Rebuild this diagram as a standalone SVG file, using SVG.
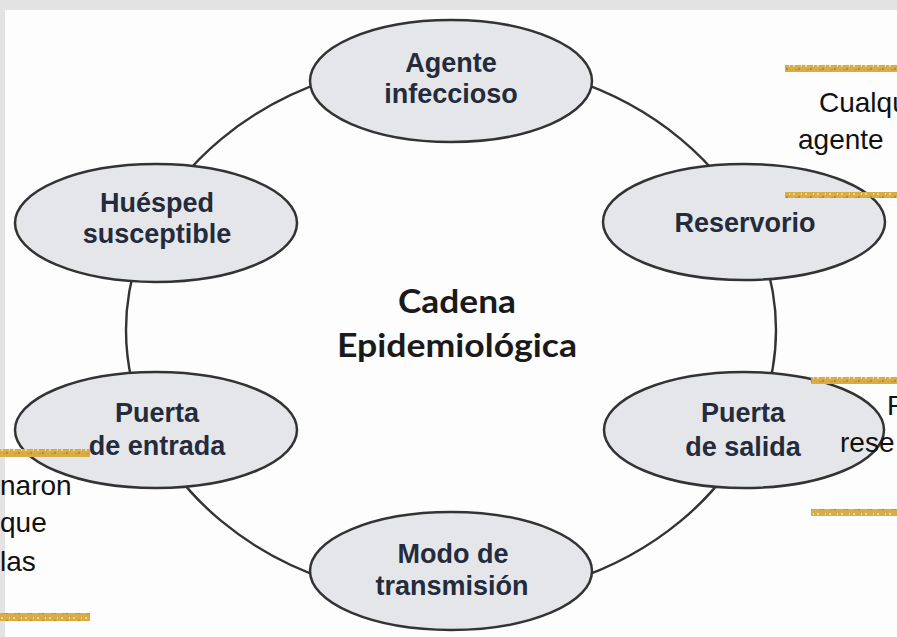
<svg xmlns="http://www.w3.org/2000/svg" width="897" height="637" viewBox="0 0 897 637">
<defs>
<pattern id="glitter" width="12" height="8" patternUnits="userSpaceOnUse">
<rect width="12" height="8" fill="#d8ac47"/>
<rect x="1" y="1" width="2" height="2" fill="#f3d77a"/>
<rect x="6" y="4" width="2" height="2" fill="#b88a2a"/>
<rect x="9" y="1" width="1" height="2" fill="#f6e08e"/>
<rect x="3" y="5" width="2" height="1" fill="#c29433"/>
</pattern>
<style>
.node ellipse{fill:#e5e6e9;stroke:#333;stroke-width:2.5}
.lbl{font-family:"Liberation Sans",Arial,sans-serif;font-weight:bold;font-size:27px;fill:#232b3c;text-anchor:middle}
.title{font-family:Lato,"Open Sans",sans-serif;font-weight:bold;font-size:32px;fill:#1a1a1a;text-anchor:middle}
.frag{font-family:"Liberation Sans",Arial,sans-serif;font-size:28px;fill:#111}
.bar{fill:url(#glitter)}
</style>
</defs>
<rect width="897" height="637" fill="#e3e3e3"/>
<rect x="5" y="10" width="892" height="627" fill="#fdfdfd"/>
<g id="connectors">
<ellipse cx="451" cy="330" rx="325" ry="270" fill="none" stroke="#333" stroke-width="2.4"/>
</g>
<g id="agente" class="node">
<ellipse cx="451" cy="81" rx="141" ry="61"/>
<text class="lbl" x="451" y="72">Agente</text>
<text class="lbl" x="451" y="103">infeccioso</text>
</g>
<g id="huesped" class="node">
<ellipse cx="156" cy="223" rx="141" ry="59"/>
<text class="lbl" x="157" y="212">Huésped</text>
<text class="lbl" x="157" y="243">susceptible</text>
</g>
<g id="reservorio" class="node">
<ellipse cx="744" cy="222" rx="141" ry="58"/>
<text class="lbl" x="745" y="232">Reservorio</text>
</g>
<g id="entrada" class="node">
<ellipse cx="156" cy="430" rx="141" ry="58"/>
<text class="lbl" x="157" y="422">Puerta</text>
<text class="lbl" x="157" y="455">de entrada</text>
</g>
<g id="salida" class="node">
<ellipse cx="744" cy="430" rx="140" ry="58"/>
<text class="lbl" x="743" y="422">Puerta</text>
<text class="lbl" x="743" y="456">de salida</text>
</g>
<g id="modo" class="node">
<ellipse cx="451" cy="571" rx="141" ry="59"/>
<text class="lbl" x="453" y="563">Modo de</text>
<text class="lbl" x="452" y="595">transmisión</text>
</g>
<g id="title">
<text class="title" x="457" y="313" textLength="118" lengthAdjust="spacingAndGlyphs">Cadena</text>
<text class="title" x="457" y="357" textLength="240" lengthAdjust="spacingAndGlyphs">Epidemiológica</text>
</g>
<g id="side-notes">
<rect class="bar" x="785" y="65" width="112" height="7"/>
<rect class="bar" x="785" y="192" width="112" height="6"/>
<rect class="bar" x="811" y="377" width="86" height="7"/>
<rect class="bar" x="811" y="509" width="86" height="7"/>
<rect class="bar" x="0" y="449" width="90" height="8"/>
<rect class="bar" x="0" y="613" width="90" height="8"/>
<text class="frag" x="819" y="112">Cualqu</text>
<text class="frag" x="798" y="149">agente</text>
<text class="frag" x="887" y="415">P</text>
<text class="frag" x="840" y="452">rese</text>
<text class="frag" x="0" y="495">naron</text>
<text class="frag" x="0" y="532">que</text>
<text class="frag" x="0" y="571">las</text>
</g>
</svg>
